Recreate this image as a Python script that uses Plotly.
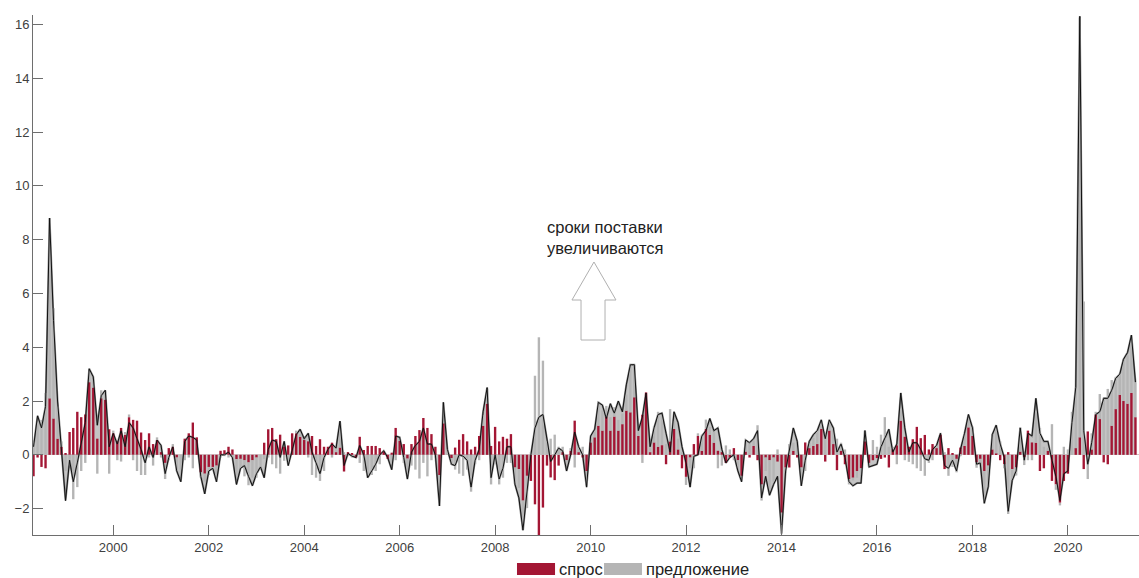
import pandas as pd
import plotly.graph_objects as go

# Monthly decomposition, May 1998 - June 2021 (one row per calendar year)
start_month = "1998-05-01"

demand = [
    -0.8, -0.1, -0.45, -0.5, 2.1, 1.35, 0.6, 0.3,                              # 1998 (May-Dec)
    0.05, 0.85, 1.0, 1.6, 1.4, 1.5, 2.7, 2.5, 0.6, 2.1, 2.05, 0.95,            # 1999
    0.8, 0.5, 1.0, 0.75, 1.4, 1.3, 1.27, 0.83, 0.55, 0.8, 0.4, 0.55,           # 2000
    0.1, -0.3, 0.25, 0.3, -0.1, 0.0, 0.6, 0.8, 1.2, 0.65, -0.65, -0.7,         # 2001
    -0.45, -0.45, -0.4, 0.15, 0.17, 0.3, 0.2, -0.16, -0.15, -0.2, -0.28, -0.2, # 2002
    -0.1, 0.0, 0.45, 0.95, 1.0, 0.58, 0.75, 0.3, 0.35, 0.8, 0.8, 0.67,         # 2003
    0.55, 0.5, 0.7, 0.33, 0.58, 0.3, 0.3, 0.45, 0.1, 0.27, -0.62, 0.1,         # 2004
    0.05, -0.1, 0.67, 0.18, 0.33, 0.33, 0.33, 0.25, 0.12, -0.15, 0.08, 1.0,    # 2005
    0.52, 0.4, -0.14, 0.4, 0.7, 0.92, 1.37, 1.0, 0.77, 0.3, -0.75, 1.17,       # 2006
    0.0, -0.12, 0.27, 0.56, 0.77, 0.5, 0.2, 0.3, 0.7, 1.08, 1.9, 0.33,         # 2007
    1.04, 0.5, 0.67, 0.6, 0.77, -0.47, -0.53, -1.7, -0.78, -0.97, -1.84, -3.3, # 2008
    -1.96, -0.4, -0.84, -0.94, -0.4, 0.1, -0.2, 0.15, 1.27, 0.1, -0.1, -0.6,   # 2009
    0.46, 0.65, 1.08, 0.9, 1.42, 0.9, 1.42, 0.9, 1.14, 1.64, 1.58, 2.14,       # 2010
    0.7, 1.49, 2.32, 0.1, 0.46, 0.3, 0.36, -0.35, 0.5, 0.96, 0.2, -0.5,        # 2011
    -0.82, -0.1, 0.4, 0.7, 0.15, 0.96, 0.74, 0.45, 0.15, 0.1, -0.3, -0.1,      # 2012
    0.25, -0.2, -0.78, 0.12, -0.1, 0.33, -0.2, -1.1, -0.1, -0.2, -0.1, -0.25,  # 2013
    -2.15, -0.47, -0.47, 0.15, -0.1, -0.47, 0.46, 0.25, 0.33, 0.4, 0.96, -0.25,  # 2014
    0.9, 0.4, -0.57, 0.15, -0.35, -0.9, -0.85, -0.6, -0.5, 0.5, -0.3, -0.2,    # 2015
    -0.12, -0.15, -0.1, -0.47, 0.2, 0.35, 1.27, 0.67, 0.3, 0.58, 1.04, 0.62,   # 2016
    0.74, 0.2, 0.4, 0.25, 0.77, -0.53, 0.25, 0.05, -0.15, 0.27, 0.33, 1.02,    # 2017
    0.7, -0.28, -0.15, -0.6, -0.4, 0.2, 0.05, -0.2, -0.35, 0.1, -0.53, -0.47,  # 2018
    0.12, -0.08, 0.9, 0.46, 0.45, -0.6, -0.5, 0.15, -0.97, -1.1, -1.78, -0.97, # 2019
    -0.7, 0.0, 0.25, 0.65, -0.53, 0.87, 0.2, 1.5, 1.33, -0.28, -0.35, 1.08,    # 2020
    1.7, 2.23, 2.0, 1.9, 2.3, 1.4,                                             # 2021 (Jan-Jun)
]

supply = [
    0.5, 1.2, 1.3, 2.3, 6.7, 4.1, 1.2, 0.2,                                    # 1998
    -0.6, -0.4, -1.65, -1.2, -0.6, -0.3, 0.4, 0.3, -0.7, 0.3, 0.3, -0.7,       # 1999
    0.1, -0.2, -0.25, 0.1, 0.1, -0.2, -0.6, -0.75, -0.75, -0.1, -0.4, 0.1,     # 2000
    -0.1, -0.6, -0.2, 0.1, -0.5, -0.55, -0.2, -0.1, -0.5, 0.0, -0.2, -0.3,     # 2001
    -0.3, -0.1, -0.6, -0.1, -0.05, -0.1, -0.1, -0.6, -0.35, -0.6, -0.85, -0.65,  # 2002
    -0.75, -0.55, -0.15, -0.1, -0.35, -0.5, -0.7, -0.22, -0.3, 0.0, 0.1, 0.1,  # 2003
    0.0, -0.1, -0.75, -0.85, -0.97, -0.6, 0.0, -0.1, 0.1, 0.9, 0.1, -0.05,     # 2004
    -0.1, 0.0, -0.3, -0.6, -0.85, -0.75, -0.6, -0.35, 0.0, 0.0, -0.35, -0.2,   # 2005
    0.1, -0.3, -0.6, -0.4, -0.55, -0.88, -0.3, -0.8, -0.2, -0.1, -1.15, 0.75,  # 2006
    0.2, -0.25, -0.55, -0.7, -0.78, -0.55, -1.37, -0.35, -0.2, 0.4, 0.55, -1.1,  # 2007
    -0.35, -1.1, -0.85, -0.3, -0.3, -0.6, -0.7, -1.1, -1.2, 0.1, 2.94, 4.37,   # 2008
    3.5, 0.52, 0.6, 0.75, 0.3, 0.2, -0.1, 0.1, -0.47, 0.25, 0.3, -0.5,         # 2009
    0.2, 0.25, 0.9, 0.75, 0.4, 0.5, 0.35, 0.4, 0.4, 0.6, 1.8, 1.2,             # 2010
    0.2, -0.3, 0.0, 0.2, 0.6, 1.3, 1.1, 0.4, 1.2, 0.3, 0.4, 0.1,               # 2011
    -0.3, -0.4, -0.5, 0.1, 0.6, 0.35, 0.3, 0.4, -0.5, -0.4, 0.35, 0.2,         # 2012
    -0.2, -0.3, -0.2, 0.4, 0.5, 0.2, 1.1, -0.6, -0.5, -1.1, -0.9, 0.2,         # 2013
    -0.8, -0.2, 0.4, 0.3, 0.3, -0.6, -0.6, 0.2, 0.3, 0.5, 0.3, 0.8,            # 2014
    0.4, 0.6, 0.6, 0.3, 0.2, -0.2, -0.1, -0.25, -0.25, 0.4, -0.15, 0.55,       # 2015
    0.3, 0.75, 1.4, 0.3, 0.1, -0.35, 0.45, -0.2, -0.26, -0.35, -0.5, -0.6,     # 2016
    -0.78, -0.3, -0.2, 0.1, 0.05, 0.1, -0.78, -0.45, -0.5, -0.05, 0.45, 0.35,  # 2017
    0.35, -0.2, -0.2, -1.2, -0.8, 0.55, 1.0, 0.5, -0.15, -2.2, -0.4, -0.3,     # 2018
    0.9, -0.3, -0.2, -0.2, 1.2, 1.0, 0.3, 0.1, 1.14, -0.2, -0.1, 0.3,          # 2019
    0.2, 1.6, 2.25, 15.6, 5.7, -0.9, 0.6, 0.1, 0.93, 2.1, 2.45, 1.7,           # 2020
    1.2, 0.8, 1.5, 1.8, 2.1, 1.3,                                              # 2021
]

total = [
    0.3, 1.45, 1.0, 1.8, 8.8, 5.0, 2.0, 0.3,                                   # 1998
    -1.7, -0.2, -1.0, -0.3, 0.4, 1.2, 3.2, 2.9, 1.1, 2.2, 2.4, 0.3,            # 1999
    0.8, 0.4, 0.9, 0.3, 1.2, 1.0, 0.6, 0.2, -0.3, 0.3, -0.1, 0.55,             # 2000
    0.35, -0.7, -0.1, 0.3, -0.6, -1.0, 0.5, 0.7, 0.65, 0.55, -0.8, -1.45,      # 2001
    -0.6, -0.5, -1.0, 0.0, 0.0, 0.1, -0.1, -1.1, -0.5, -0.4, -0.8, -1.15,      # 2002
    -0.7, -0.45, -0.85, 0.2, 0.55, 0.5, -0.1, 0.5, -0.4, 0.2, 0.75, 0.95,      # 2003
    0.6, 0.8, 0.1, -0.3, -0.7, -0.1, 0.2, 0.4, 0.25, 1.25, -0.4, 0.05,         # 2004
    -0.05, -0.1, 0.35, 0.0, -0.85, -0.6, -0.35, 0.0, 0.15, -0.1, -0.55, 0.7,   # 2005
    0.65, -0.1, -0.9, 0.1, 0.35, 0.5, 1.0, 0.4, 0.4, 0.0, -1.9, 1.95,          # 2006
    0.2, -0.35, -0.4, 0.0, -0.05, -0.2, -1.2, -0.2, 0.2, 1.6, 2.5, -0.85,      # 2007
    0.0, -0.9, -0.5, 0.3, 0.3, -1.1, -1.6, -2.8, -1.3, 0.0, 1.0, 1.4,          # 2008
    1.5, 0.5, -0.25, 0.0, 0.25, 0.15, -0.6, 0.0, 0.85, 0.3, 0.0, -1.2,         # 2009
    0.7, 0.95, 1.95, 1.85, 1.35, 1.9, 1.55, 2.0, 1.6, 2.6, 3.35, 3.35,         # 2010
    0.9, 1.4, 2.3, 0.3, 1.0, 1.5, 1.55, 0.8, 0.1, 1.6, 1.2, 0.3,               # 2011
    -0.3, -1.2, -0.05, 0.0, 0.7, 0.9, 1.35, 0.9, 1.0, 0.2, -0.3, -0.1,         # 2012
    0.0, -0.6, -1.0, 0.55, 0.45, 0.6, 0.9, -1.6, -0.8, -1.5, -1.1, -0.8,       # 2013
    -2.9, -0.6, 0.15, 1.0, 0.5, -1.15, -0.2, 0.5, 0.75, 0.9, 1.3, 0.6,         # 2014
    1.3, 1.0, 0.1, 0.4, -0.1, -1.0, -1.15, -1.05, -1.05, 0.9, -0.45, -0.4,     # 2015
    -0.35, 0.3, 0.6, 0.95, 0.1, 0.4, 2.3, 1.0, 0.1, 0.45, 0.45, 0.2,           # 2016
    -0.15, -0.2, 0.2, 0.35, 0.8, -0.4, -0.5, -0.2, -0.6, 0.2, 0.8, 1.5,        # 2017
    1.0, -0.35, -0.3, -1.8, -1.2, 0.75, 1.1, 0.4, -0.1, -2.1, -0.95, -0.6,     # 2018
    1.0, -0.2, 0.8, 0.7, 2.1, 0.8, 0.5, 0.5, -0.2, -0.8, -1.7, -0.7,           # 2019
    -0.6, 1.2, 2.5, 16.3, 0.9, -0.35, 0.45, 1.5, 1.6, 2.1, 2.1, 2.4,           # 2020
    2.85, 3.0, 3.55, 3.8, 4.45, 2.7,                                           # 2021
]

assert len(demand) == len(supply) == len(total)
months = pd.date_range(start_month, periods=len(total), freq="MS")

RED = "#A31634"
GREY = "#B5B5B5"
AXIS = "#6E6E6E"
TEXT = "#404040"
FONT = "Liberation Sans, Arial, sans-serif"
X_RANGE = ["1998-04-27", "2021-06-28"]
Y_RANGE = [-2.98, 16.35]

fig = go.Figure()

# shaded area between the composite index and zero (bottom subplot layer)
fig.add_trace(go.Scatter(
    x=months, y=total, mode="lines", fill="tozeroy",
    fillcolor="#C4C4C4", line=dict(color="#8C8C8C", width=2),
    hoverinfo="skip", showlegend=False, xaxis="x", yaxis="y",
))
# contributions and the index itself, drawn on an overlaid twin of the axes
fig.add_trace(go.Bar(
    x=months, y=demand, name="спрос", marker=dict(color=RED, line=dict(width=0)),
    showlegend=False, xaxis="x2", yaxis="y2",
))
fig.add_trace(go.Bar(
    x=months, y=supply, name="предложение", marker=dict(color=GREY, line=dict(width=0)),
    showlegend=False, xaxis="x2", yaxis="y2",
))
fig.add_trace(go.Scatter(
    x=months, y=total, mode="lines", line=dict(color="#111111", width=1),
    hoverinfo="skip", showlegend=False, xaxis="x2", yaxis="y2",
))

fig.update_layout(
    width=1139, height=578,
    margin=dict(l=33, r=0, t=15, b=43),
    barmode="relative", bargap=0.35,
    plot_bgcolor="white", paper_bgcolor="white",
    font=dict(family=FONT, size=13, color=TEXT),
    xaxis=dict(
        range=X_RANGE,
        tick0="2000-01-01", dtick="M24", tickformat="%Y",
        ticks="inside", ticklen=10, tickcolor=AXIS,
        showline=True, linecolor=AXIS, linewidth=1,
        showgrid=False, zeroline=False,
    ),
    yaxis=dict(
        range=Y_RANGE, dtick=2,
        ticks="inside", ticklen=10, tickcolor=AXIS,
        showline=True, linecolor=AXIS, linewidth=1,
        showgrid=False, zeroline=True, zerolinecolor="#D6BFC4", zerolinewidth=1,
    ),
    xaxis2=dict(range=X_RANGE, overlaying="x", visible=False),
    yaxis2=dict(range=Y_RANGE, overlaying="y", visible=False),
)

# hollow upward arrow under the caption
arrow_path = (
    "M 0.5072 0.525 L 0.5271 0.4519 L 0.5172 0.4519 L 0.5172 0.375 "
    "L 0.4955 0.375 L 0.4955 0.4519 L 0.4873 0.4519 Z"
)
fig.add_shape(type="path", xref="paper", yref="paper", path=arrow_path,
              line=dict(color="#B0B0B0", width=1), fillcolor="white")

fig.add_annotation(
    xref="paper", yref="paper", x=0.463, y=0.573, xanchor="left", yanchor="middle",
    text="сроки поставки<br>увеличиваются", showarrow=False, align="left",
    font=dict(family=FONT, size=16.5, color="#222222"),
)

# legend drawn as wide colour swatches with labels
legend_items = [("спрос", RED, 0.4376, 0.472), ("предложение", GREY, 0.5163, 0.5506)]
for label, colour, x0, x1 in legend_items:
    fig.add_shape(type="rect", xref="paper", yref="paper", x0=x0, x1=x1,
                  y0=-0.0769, y1=-0.0538, line=dict(width=0), fillcolor=colour)
    fig.add_annotation(
        xref="paper", yref="paper", x=x1 + 0.002, y=-0.0655,
        xanchor="left", yanchor="middle", text=label, showarrow=False,
        font=dict(family=FONT, size=16.5, color="#222222"),
    )

fig.write_html("out.html")
